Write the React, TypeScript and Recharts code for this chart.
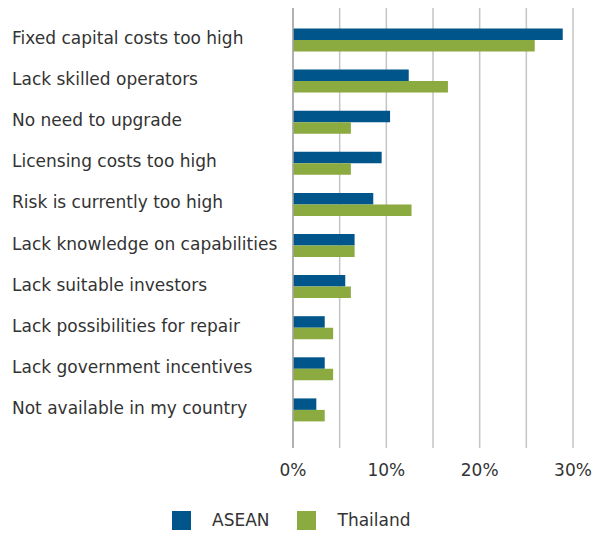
import React from 'react';
import { BarChart, Bar, XAxis, YAxis, CartesianGrid } from 'recharts';

const categories = [
  'Fixed capital costs too high',
  'Lack skilled operators',
  'No need to upgrade',
  'Licensing costs too high',
  'Risk is currently too high',
  'Lack knowledge on capabilities',
  'Lack suitable investors',
  'Lack possibilities for repair',
  'Lack government incentives',
  'Not available in my country',
];
const asean = [28.9, 12.4, 10.4, 9.5, 8.6, 6.6, 5.6, 3.4, 3.4, 2.5];
const thailand = [25.9, 16.6, 6.2, 6.2, 12.7, 6.6, 6.2, 4.3, 4.3, 3.4];
const xTicks = [0, 5, 10, 15, 20, 25, 30];

const data = categories.map((name, i) => ({ name, ASEAN: asean[i], Thailand: thailand[i] }));

const FONT = '"DejaVu Sans", sans-serif';
const TEXT = '#333333';

const LeftTick = (props: any) => {
  const { y, payload } = props;
  return (
    <text x={12} y={y} dy={-2} textAnchor="start" dominantBaseline="central" fontSize={17} fill={TEXT} fontFamily={FONT}>
      {payload.value}
    </text>
  );
};

export default function App() {
  return (
    <div style={{ position: 'absolute', left: 0, top: 0, width: 599, height: 536, background: '#fff' }}>
      <BarChart
        width={599}
        height={536}
        data={data}
        layout="vertical"
        margin={{ top: 8, right: 26, left: 0, bottom: 48 }}
        barGap={0}
        barSize={11.5}
      >
        <CartesianGrid horizontal={false} stroke="#c4c4c4" strokeWidth={1.5} />
        <XAxis
          type="number"
          domain={[0, 30]}
          ticks={xTicks}
          tickFormatter={(v) => (v % 10 === 0 ? `${v}%` : '')}
          axisLine={false}
          tickLine={false}
          tickMargin={10}
          height={40}
          tick={{ fontSize: 17, fill: TEXT, fontFamily: FONT }}
        />
        <YAxis
          type="category"
          dataKey="name"
          width={293}
          padding={{ top: 11.5, bottom: 17.5 }}
          axisLine={{ stroke: '#a6a6a6', strokeWidth: 1.5 }}
          tickLine={false}
          tick={<LeftTick />}
        />
        <Bar dataKey="ASEAN" fill="#00568A" isAnimationActive={false} />
        <Bar dataKey="Thailand" fill="#8BAA3F" isAnimationActive={false} />
      </BarChart>
      <div
        style={{
          position: 'absolute',
          left: 172,
          top: 510,
          display: 'flex',
          alignItems: 'center',
          fontFamily: FONT,
          fontSize: 17,
          color: TEXT,
        }}
      >
        <span style={{ width: 19, height: 19, background: '#00568A', display: 'inline-block' }} />
        <span style={{ marginLeft: 21, marginRight: 27 }}>ASEAN</span>
        <span style={{ width: 19, height: 19, background: '#8BAA3F', display: 'inline-block' }} />
        <span style={{ marginLeft: 22 }}>Thailand</span>
      </div>
    </div>
  );
}
